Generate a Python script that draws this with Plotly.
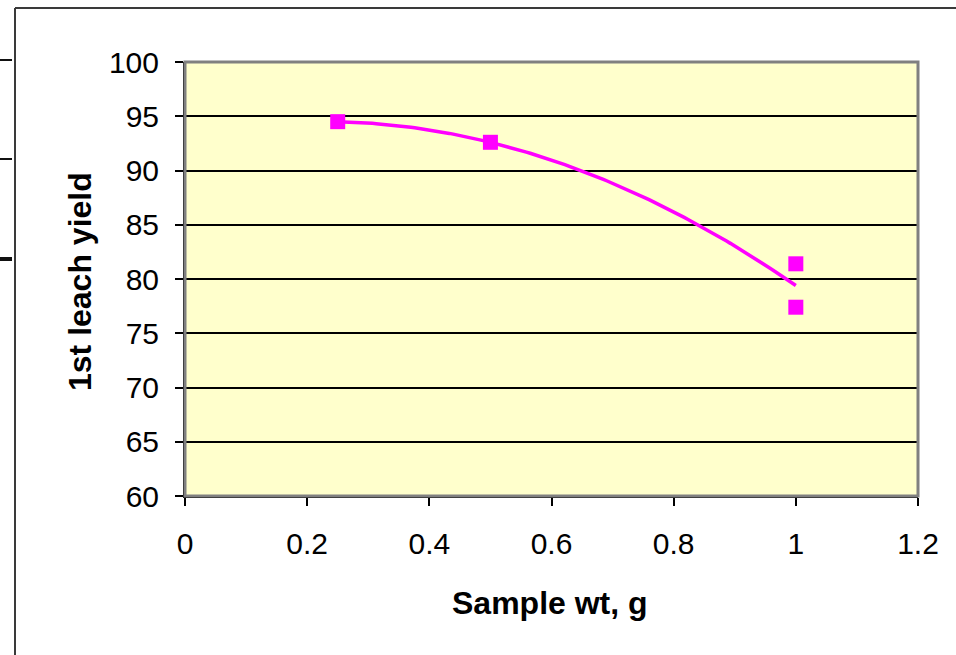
import numpy as np
import plotly.graph_objects as go

# Data
sample_wt = [0.25, 0.5, 1.0, 1.0]
leach_yield = [94.5, 92.6, 81.4, 77.4]

x_ticks = [0, 0.2, 0.4, 0.6, 0.8, 1, 1.2]
x_tick_labels = ["0", "0.2", "0.4", "0.6", "0.8", "1", "1.2"]
y_ticks = [60, 65, 70, 75, 80, 85, 90, 95, 100]

x_title = "Sample wt, g"
y_title = "1st leach yield"

# Polynomial (order 2) trendline fitted to the data, as in the original chart
coef = np.polyfit(sample_wt, leach_yield, 2)
trend_x = np.linspace(min(sample_wt), max(sample_wt), 120)
trend_y = np.polyval(coef, trend_x)

MAG = "#FF00FF"
FONT = "Liberation Sans, Arial, sans-serif"

fig = go.Figure()
fig.add_trace(go.Scatter(x=trend_x, y=trend_y, mode="lines",
                         line=dict(color=MAG, width=3.5), hoverinfo="skip",
                         showlegend=False))
fig.add_trace(go.Scatter(x=sample_wt, y=leach_yield, mode="markers",
                         marker=dict(symbol="square", size=15, color=MAG,
                                     line=dict(width=0)),
                         showlegend=False))

W, H = 956, 655
L, R, T, B = 185, 38, 62, 159
pw, ph = W - L - R, H - T - B

def px(x):
    return (x - L) / pw

def py(y):
    return 1 - (y - T) / ph

shapes = [
    # outer chart border (left and top visible)
    dict(type="line", xref="paper", yref="paper", x0=px(15), x1=px(15),
         y0=py(8), y1=py(700), line=dict(color="#3a3a3a", width=2)),
    dict(type="line", xref="paper", yref="paper", x0=px(15), x1=px(1000),
         y0=py(8), y1=py(8), line=dict(color="#3a3a3a", width=2)),
    # plot area border
    dict(type="rect", xref="paper", yref="paper", x0=0, x1=1, y0=0, y1=1,
         line=dict(color="#808080", width=3), layer="above"),
    # stray tick marks at far left
    dict(type="line", xref="paper", yref="paper", x0=px(0), x1=px(12),
         y0=py(60), y1=py(60), line=dict(color="#111111", width=2)),
    dict(type="line", xref="paper", yref="paper", x0=px(0), x1=px(12),
         y0=py(159), y1=py(159), line=dict(color="#111111", width=2)),
    dict(type="line", xref="paper", yref="paper", x0=px(0), x1=px(12),
         y0=py(259), y1=py(259), line=dict(color="#111111", width=4)),
]

fig.update_layout(
    width=W, height=H,
    margin=dict(l=L, r=R, t=T, b=B, pad=0),
    paper_bgcolor="white",
    plot_bgcolor="#FFFFCC",
    font=dict(family=FONT, color="black", size=30),
    shapes=shapes,
    annotations=[
        dict(text="<b>" + x_title + "</b>", xref="paper", yref="paper",
             x=px(550), y=py(603),
             showarrow=False, font=dict(size=32, family=FONT, color="black"),
             xanchor="center", yanchor="middle"),
        dict(text="<b>" + y_title + "</b>", xref="paper", yref="paper",
             x=px(80), y=py(282), textangle=-90, showarrow=False,
             font=dict(size=32, family=FONT, color="black"),
             xanchor="center", yanchor="middle"),
    ],
    xaxis=dict(range=[0, 1.2], tickvals=x_ticks, ticktext=x_tick_labels,
               showgrid=False, zeroline=False, showline=True,
               linecolor="black", linewidth=2, ticks="outside", ticklen=8,
               tickwidth=2, tickcolor="black", ticklabelstandoff=12,
               tickfont=dict(size=30, family=FONT)),
    yaxis=dict(range=[60, 100], tickvals=y_ticks, showgrid=True,
               gridcolor="black", gridwidth=1.5, zeroline=False,
               showline=True, linecolor="black", linewidth=2,
               ticks="outside", ticklen=8, tickwidth=2, tickcolor="black",
               ticklabelstandoff=10, tickfont=dict(size=30, family=FONT)),
)

fig.write_html("out.html",
               config={"displayModeBar": False},
               post_script="document.body.style.margin='0';"
                           "document.body.style.overflow='hidden';")
